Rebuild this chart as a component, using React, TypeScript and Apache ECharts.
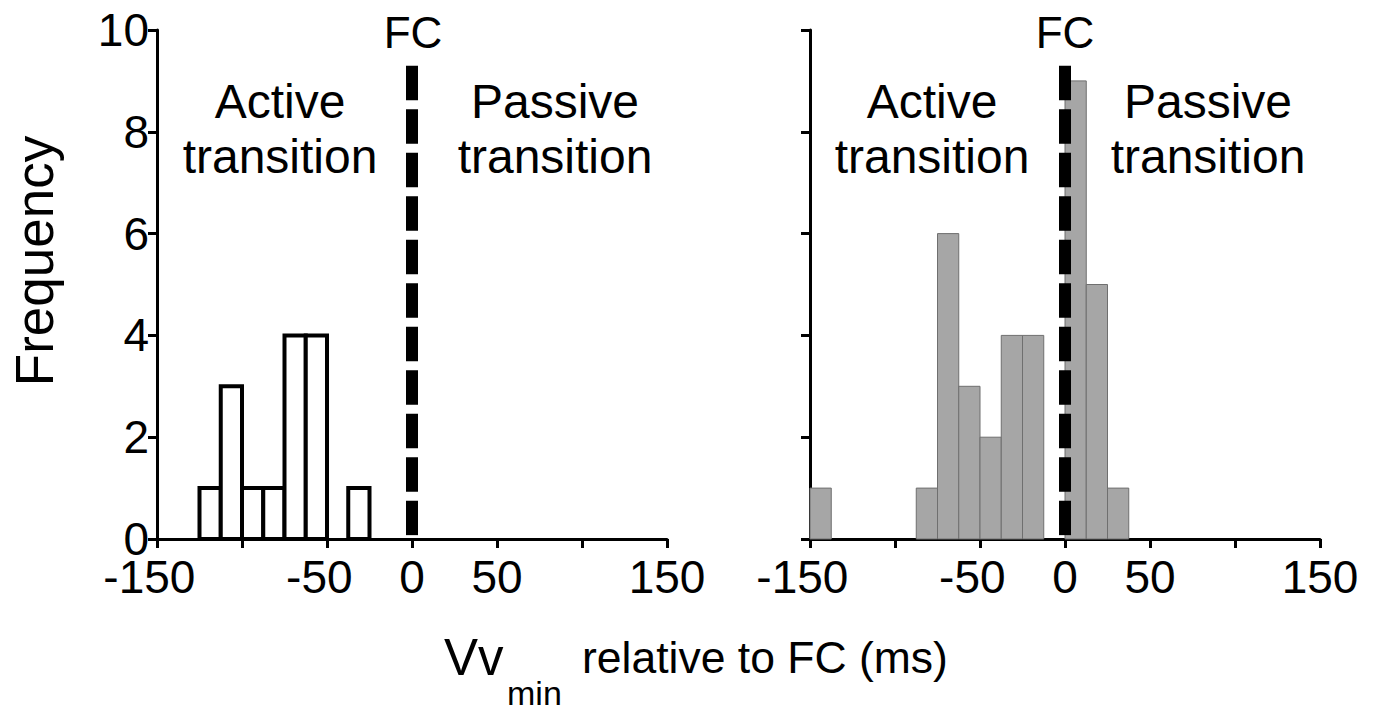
import React, { useEffect, useRef } from "react";
import * as echarts from "echarts";

// Histogram bins (left edge of each bin, ms) and counts
const binWidth = 12.5;
const leftBinStarts = [-125, -112.5, -100, -87.5, -75, -62.5, -50, -37.5];
const leftCounts = [1, 3, 1, 1, 4, 4, 0, 1];
const rightBinStarts = [-150, -137.5, -125, -112.5, -100, -87.5, -75, -62.5, -50, -37.5, -25, -12.5, 0, 12.5, 25];
const rightCounts = [1, 0, 0, 0, 0, 1, 6, 3, 2, 4, 4, 0, 9, 5, 1];

// FC marker line (x = 0) from top value down to 0
const fcLine = [[0, 9.3], [0, 0]];

const xTicks = { min: -150, max: 150, interval: 50 };
const yTicks = { min: 0, max: 10, interval: 2 };
const hiddenXLabels = [-100, 100];

const FONT = "Liberation Sans, Arial, Helvetica, sans-serif";

function makeHist(starts: number[], counts: number[]) {
  return starts.map((s, i) => [s, counts[i]]);
}

export default function App() {
  const ref = useRef<HTMLDivElement>(null);
  useEffect(() => {
    if (!ref.current) return;
    const chart = echarts.init(ref.current, undefined, { renderer: "svg" });

    const axisCommon = {
      axisLine: { show: true, onZero: false, lineStyle: { color: "#000", width: 3 } },
      axisTick: { show: true, inside: false, length: 9, lineStyle: { color: "#000", width: 3 } },
      splitLine: { show: false },
    };

    const xAxisFor = (gridIndex: number) => ({
      type: "value",
      gridIndex,
      ...xTicks,
      ...axisCommon,
      axisLabel: {
        show: true,
        color: "#000",
        fontSize: 46,
        fontFamily: FONT,
        margin: 15,
        lineHeight: 46,
        showMinLabel: true,
        showMaxLabel: true,
        // negative labels: digits centred on the tick, minus sign hanging left
        formatter: (v: number) =>
          hiddenXLabels.includes(v) ? "" : v < 0 ? `${v}{h|-}` : String(v),
        rich: {
          h: { color: "transparent", fontSize: 46, fontFamily: FONT, lineHeight: 46 },
        },
      },
    });

    const yAxisFor = (gridIndex: number, labels: boolean) => ({
      type: "value",
      gridIndex,
      ...yTicks,
      ...axisCommon,
      axisLabel: {
        show: labels,
        color: "#000",
        fontSize: 46,
        fontFamily: FONT,
        lineHeight: 40,
        margin: 8,
      },
    });

    const histSeries = (idx: number, data: number[][], fill: string, stroke: string, lw: number) => ({
      type: "custom",
      xAxisIndex: idx,
      yAxisIndex: idx,
      data,
      z: 2,
      renderItem: (params: any, api: any) => {
        const x0 = api.value(0);
        const c = api.value(1);
        if (!c) return null;
        const p0 = api.coord([x0, c]);
        const p1 = api.coord([x0 + binWidth, 0]);
        return {
          type: "rect",
          shape: { x: p0[0], y: p0[1], width: p1[0] - p0[0], height: p1[1] - p0[1] },
          style: { fill, stroke, lineWidth: lw },
        };
      },
    });

    const fcSeries = (idx: number) => ({
      type: "line",
      xAxisIndex: idx,
      yAxisIndex: idx,
      data: fcLine,
      symbol: "none",
      z: 5,
      lineStyle: { color: "#000", width: 12, type: [34.5, 9], cap: "butt" },
    });

    const txt = (text: string, x: number, y: number, size: number, align = "center", rotation = 0) => ({
      type: "text",
      x,
      y,
      rotation,
      z: 10,
      style: {
        text,
        fontSize: size,
        fontFamily: FONT,
        fill: "#000",
        align,
        verticalAlign: "middle",
        textAlign: align,
        textVerticalAlign: "middle",
      },
    });

    chart.setOption({
      animation: false,
      backgroundColor: "#fff",
      grid: [
        { left: 157, top: 30, width: 510, height: 509 },
        { left: 810, top: 30, width: 510, height: 509 },
      ],
      xAxis: [xAxisFor(0), xAxisFor(1)],
      yAxis: [yAxisFor(0, true), yAxisFor(1, false)],
      series: [
        histSeries(0, makeHist(leftBinStarts, leftCounts), "#fff", "#000", 4),
        histSeries(1, makeHist(rightBinStarts, rightCounts), "#a6a6a6", "#6f6f6f", 1),
        fcSeries(0),
        fcSeries(1),
      ],
      graphic: [
        txt("FC", 413, 32, 44),
        txt("FC", 1065, 32, 44),
        txt("Active", 280, 101, 48),
        txt("transition", 280, 156, 48),
        txt("Passive", 555, 101, 48),
        txt("transition", 555, 156, 48),
        txt("Active", 932, 101, 48),
        txt("transition", 932, 156, 48),
        txt("Passive", 1208, 101, 48),
        txt("transition", 1208, 156, 48),
        txt("Frequency", 34, 261, 53, "center", Math.PI / 2),
        txt("Vv", 444, 657, 51, "left"),
        txt("min", 507, 693, 34, "left"),
        txt("relative to FC (ms)", 582, 657, 44.5, "left"),
      ],
    });
    return () => chart.dispose();
  }, []);
  return (
    <div
      ref={ref}
      style={{ position: "fixed", left: 0, top: 0, width: "1377px", height: "713px", background: "#fff" }}
    />
  );
}
